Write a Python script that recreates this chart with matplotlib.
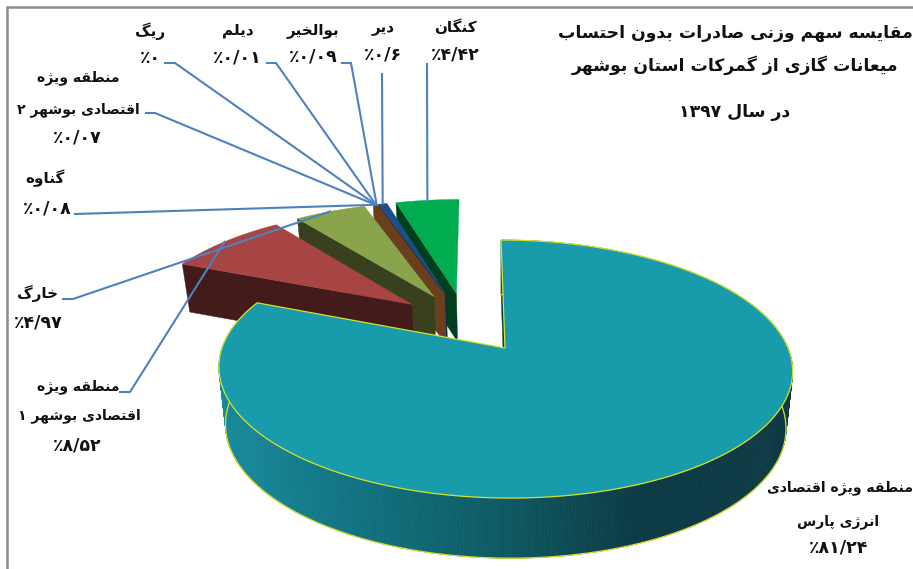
import numpy as np
import matplotlib
matplotlib.use("Agg")
import matplotlib.pyplot as plt
from matplotlib.collections import PolyCollection
from matplotlib.colors import to_rgb

# ---------- data ----------
names = [
    ["منطقه ویژه اقتصادی", "انرژی پارس"],
    ["منطقه ویژه", "اقتصادی بوشهر ۱"],
    ["خارگ"],
    ["گناوه"],
    ["منطقه ویژه", "اقتصادی بوشهر ۲"],
    ["ریگ"],
    ["دیلم"],
    ["بوالخیر"],
    ["دیر"],
    ["کنگان"],
]
values = [81.24, 8.52, 4.97, 0.08, 0.07, 0.0, 0.01, 0.09, 0.6, 4.42]
top_colors = ["#189bab", "#a64544", "#8aa44c", "#6b3f1e", "#6b3f1e", "#6b3f1e", "#6b3f1e", "#6b3f1e", "#1f4e86", "#00ac4f"]
wall_colors = ["#0c3b35", "#431b1a", "#39401d", "#6b3f1e", "#6b3f1e", "#6b3f1e", "#6b3f1e", "#6b3f1e", "#10284a", "#003f1d"]
title_lines = ["مقایسه سهم وزنی صادرات بدون احتساب", "میعانات گازی از گمرکات استان بوشهر", "در سال ۱۳۹۷"]

# ---------- layout ----------
label_pos = [
    [(840, 488), (838, 522), (839, 547)],
    [(78, 387), (79, 416), (77, 445)],
    [(38, 293), (38, 322)],
    [(45, 178), (47, 208)],
    [(78, 78), (78, 110), (77, 137)],
    [(150, 31), (150, 58)],
    [(238, 30), (237, 57)],
    [(313, 30), (313, 56)],
    [(383, 27), (383, 54)],
    [(455, 27), (455, 54)],
]
leader_start = [None, [(120, 392), (130, 392)], [(63, 299), (73, 299)], [(75, 214)],
                [(146, 113), (155, 113)], [(165, 63), (175, 63)], [(267, 63), (276, 63)],
                [(342, 63), (351, 63)], [(382, 74)], [(427, 64)]]
X0, Y0, A, B, K, S, EXPL = 505.0, 348.0, 283.0, 125.6, 0.163, -4.65, 0.255


# ---------- Persian shaping (matplotlib has no text shaping) ----------
def _forms(iso, n=4):
    return tuple(iso + i for i in range(n))


FORMS = {
    "ا": _forms(0xFE8D, 2), "آ": _forms(0xFE81, 2), "ب": _forms(0xFE8F), "پ": _forms(0xFB56),
    "ت": _forms(0xFE95), "ث": _forms(0xFE99), "ج": _forms(0xFE9D), "چ": _forms(0xFB7A),
    "ح": _forms(0xFEA1), "خ": _forms(0xFEA5), "د": _forms(0xFEA9, 2), "ذ": _forms(0xFEAB, 2),
    "ر": _forms(0xFEAD, 2), "ز": _forms(0xFEAF, 2), "ژ": _forms(0xFB8A, 2), "س": _forms(0xFEB1),
    "ش": _forms(0xFEB5), "ص": _forms(0xFEB9), "ض": _forms(0xFEBD), "ط": _forms(0xFEC1),
    "ظ": _forms(0xFEC5), "ع": _forms(0xFEC9), "غ": _forms(0xFECD), "ف": _forms(0xFED1),
    "ق": _forms(0xFED5), "ک": _forms(0xFB8E), "گ": _forms(0xFB92), "ل": _forms(0xFEDD),
    "م": _forms(0xFEE1), "ن": _forms(0xFEE5), "و": _forms(0xFEED, 2), "ه": _forms(0xFEE9),
    "ی": _forms(0xFBFC),
}


def shape_word(word):
    out = []
    for i, ch in enumerate(word):
        f = FORMS.get(ch)
        if f is None:
            out.append(ch)
            continue
        prev = FORMS.get(word[i - 1]) if i > 0 else None
        nxt = i + 1 < len(word) and word[i + 1] in FORMS
        joined_prev = prev is not None and len(prev) == 4
        joined_next = nxt and len(f) == 4
        if joined_prev and joined_next:
            c = f[3]
        elif joined_prev:
            c = f[1]
        elif joined_next:
            c = f[2]
        else:
            c = f[0]
        out.append(chr(c))
    return "".join(reversed(out))


def shape(line):
    tokens = []
    for w in line.split(" "):
        tokens.append(shape_word(w) if any(ch in FORMS for ch in w) else w)
    return " ".join(reversed(tokens))


def fa_value(v):
    s = f"{v:.2f}".rstrip("0").rstrip(".")
    s = s.translate(str.maketrans("0123456789.", "۰۱۲۳۴۵۶۷۸۹/"))
    return "٪" + s


# ---------- geometry ----------
def project(X, Y, drop=0.0):
    X, Y = np.asarray(X, float), np.asarray(Y, float)
    w = 1 + K * Y
    x = X0 + (A * X + S * Y) / w
    y = Y0 - B * Y / w
    if np.ndim(drop) or drop:
        x = X0 + (x - X0) * 0.977
        y = y + drop
    return x, y


v = np.array(values)
ends = np.cumsum(v) / v.sum() * 2 * np.pi
starts = np.r_[0, ends[:-1]]
mids = (starts + ends) / 2
cx = -EXPL * np.sin(mids[0])
cy = -EXPL * np.cos(mids[0])
ox = cx + EXPL * np.sin(mids)
oy = cy + EXPL * np.cos(mids)

fig = plt.figure(figsize=(9.13, 5.69), dpi=100, facecolor="white")
ax = fig.add_axes([0, 0, 1, 1])
ax.set_xlim(0, 913)
ax.set_ylim(569, 0)
ax.axis("off")

# frame
ax.plot([7, 7, 913], [569, 7, 7], color="#8c8c8c", lw=1.8, solid_joinstyle="miter", zorder=1)

DEPTH_SMALL = 48
YEL = "#d7e12a"
z = 2

# small slices, right to left
for i in range(len(v) - 1, 0, -1):
    t = np.linspace(starts[i], ends[i], max(int(np.degrees(ends[i] - starts[i])) * 2, 2))
    X = ox[i] + np.sin(t)
    Y = oy[i] + np.cos(t)
    ax0, ay0 = project(ox[i], oy[i])
    bx0, by0 = project(ox[i], oy[i], DEPTH_SMALL)
    ox1, oy1 = project(X[0], Y[0])
    bx1, by1 = project(X[0], Y[0], DEPTH_SMALL)
    ax.fill([ax0, ox1, bx1, bx0], [ay0, oy1, by1, by0], color=wall_colors[i], lw=0.3, zorder=z)
    px, py = project(X, Y)
    ax.fill(np.r_[ax0, px], np.r_[ay0, py], color=top_colors[i], lw=0.3, zorder=z + 1)
    z += 2

# leaders sit above the small slices and below the big one
for i in range(1, len(v)):
    ex, ey = project(ox[i] + np.sin(mids[i]), oy[i] + np.cos(mids[i]))
    pts = leader_start[i] + [(float(ex), float(ey))]
    ax.plot(*zip(*pts), color="#4f81bd", lw=1.5, solid_joinstyle="round", zorder=z)
z += 1

# big slice
t = np.linspace(starts[0], ends[0], 500)
X = ox[0] + np.sin(t)
Y = oy[0] + np.cos(t)
tx, ty = project(X, Y)
w = 1 + K * Y
drop = 57 / w ** 0.3
bx, by = project(X, Y, drop)
# back radial wall
rx0, ry0 = project(ox[0], oy[0])
rbx0, rby0 = project(ox[0], oy[0], 57.0)
ax.fill([rx0, tx[0], bx[0], rbx0], [ry0, ty[0], by[0], rby0], color=wall_colors[0], lw=0.3, zorder=z)
# rim wall, shaded left to right
stop_x = [225, 360, 500, 640, 800]
stop_c = np.array([to_rgb(c) for c in ["#17899a", "#11717f", "#0e5a63", "#0c3a44", "#0c3a44"]])
polys, cols = [], []
for j in range(len(t) - 1):
    polys.append([(tx[j], ty[j]), (tx[j + 1], ty[j + 1]), (bx[j + 1], by[j + 1]), (bx[j], by[j])])
    xm = (tx[j] + tx[j + 1]) / 2
    cols.append([np.interp(xm, stop_x, stop_c[:, c]) for c in range(3)])
ax.add_collection(PolyCollection(polys, facecolors=cols, edgecolors=cols, linewidths=0.5, zorder=z + 1))
ax.plot(bx, by, color=YEL, lw=0.9, zorder=z + 2)
ax.fill(np.r_[rx0, tx], np.r_[ry0, ty], facecolor=top_colors[0], edgecolor=YEL, lw=0.9, zorder=z + 3)
z += 4

# labels
for i, lines in enumerate(names):
    name_size = 11 if len(lines) == 1 else 10.1
    for s, (x, y) in zip([shape(l) for l in lines], label_pos[i]):
        ax.text(x, y, s, ha="center", va="center", fontsize=name_size, fontweight="bold",
                family="DejaVu Sans", color="#111111", zorder=z + 1)
    x, y = label_pos[i][-1]
    ax.text(x, y, fa_value(values[i]), ha="center", va="center", fontsize=12.5, fontweight="bold",
            family="DejaVu Sans", color="#111111", zorder=z + 1)

# title
for s, y in zip(title_lines, [33, 65, 112]):
    ax.text(735, y, shape(s), ha="center", va="center", fontsize=12.4, fontweight="bold",
            family="DejaVu Sans", color="#111111", zorder=z + 1)

fig.savefig("out.png", dpi=100, facecolor="white")
